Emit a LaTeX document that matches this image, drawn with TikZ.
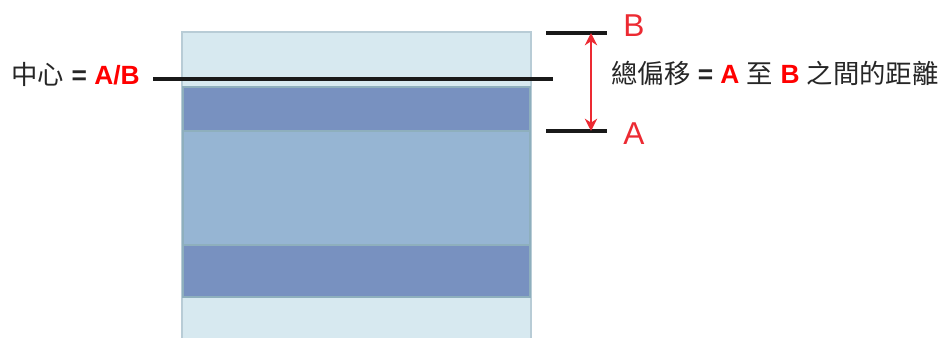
\documentclass[tikz,border=0pt]{standalone}
\usepackage{fontspec}
\setmainfont{Liberation Sans}
\newfontfamily\cjk{Noto Sans CJK TC}
\usetikzlibrary{arrows.meta,positioning}

\definecolor{paleband}{HTML}{D7E9F0}
\definecolor{paleedge}{HTML}{B8CCD6}
\definecolor{darkband}{HTML}{7891C0}
\definecolor{midband}{HTML}{96B5D3}
\definecolor{bandedge}{HTML}{8EAFBD}
\definecolor{markred}{HTML}{EC2A32}
\definecolor{textgray}{HTML}{262626}

\tikzset{
  label text/.style={font=\fontsize{15}{17}\selectfont, text=textgray, inner sep=0pt},
  level text/.style={font=\fontsize{18}{20}\selectfont, text=markred, inner sep=0pt},
  level line/.style={line width=2pt, black!90},
}

\begin{document}
\begin{tikzpicture}
    \useasboundingbox (0,0) rectangle (18.9,-6.76);

    % Stack of layers
    \filldraw[fill=paleband, draw=paleedge, line width=1pt] (3.64,-0.64) rectangle (10.62,-6.9);
    \filldraw[fill=darkband, draw=bandedge, line width=0.8pt] (3.66,-1.74) rectangle (10.60,-2.62);
    \filldraw[fill=midband, draw=bandedge, line width=0.8pt] (3.66,-2.62) rectangle (10.60,-4.90);
    \filldraw[fill=darkband, draw=bandedge, line width=0.8pt] (3.66,-4.90) rectangle (10.60,-5.94);

    % Center line
    \coordinate (cL) at (3.06,-1.58);
    \coordinate (cR) at (11.06,-1.58);
    \draw[level line] (cL) -- (cR);
    \node[label text, anchor=east] (center) at (2.80,-1.48)
      {{\cjk 中心} \textbf{=} \textbf{\color{red}A/B}};

    % Levels A and B
    \coordinate (bL) at (10.92,-0.66);
    \coordinate (bR) at (12.14,-0.66);
    \coordinate (aL) at (10.92,-2.62);
    \coordinate (aR) at (12.14,-2.62);
    \draw[level line] (bL) -- (bR);
    \draw[level line] (aL) -- (aR);
    \node[level text] (levB) at (12.68,-0.52) {B};
    \node[level text] (levA) at (12.68,-2.68) {A};

    % Offset arrow
    \coordinate (arrB) at (11.82,-0.66);
    \coordinate (arrA) at (11.82,-2.62);
    \draw[markred, line width=1.5pt, {Stealth[length=7pt,width=7pt]}-{Stealth[length=7pt,width=7pt]}] (arrB) -- (arrA);

    \node[label text, anchor=west] (offset) at (12.22,-1.46)
      {{\cjk 總偏移} \textbf{=} \textbf{\color{red}A} {\cjk 至} \textbf{\color{red}B} {\cjk 之間的距離}};
\end{tikzpicture}
\end{document}
